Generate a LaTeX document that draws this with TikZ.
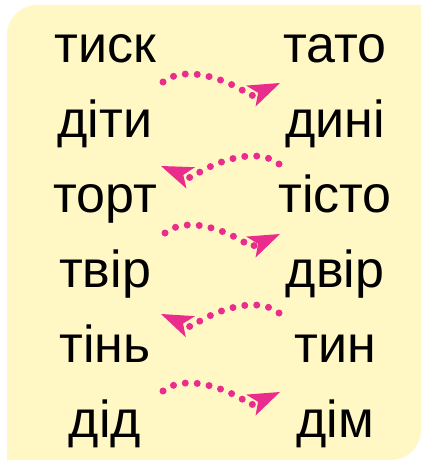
\documentclass[tikz,border=0pt]{standalone}
\usepackage{fontspec}
\setmainfont{Liberation Sans}
\usetikzlibrary{arrows.meta}
\definecolor{paper}{RGB}{255,247,196}
\definecolor{dotpink}{RGB}{234,44,140}

\begin{document}
\begin{tikzpicture}[x=1pt,y=-1pt,node distance=74.8pt,
      word/.style={font=\fontsize{52}{52}\selectfont,text height=38pt,text depth=12pt,inner sep=0pt},
      hop/.style={dotpink,line width=7pt,line cap=round,dash pattern=on 0pt off 12pt,
        -{Stealth[length=32pt,width=23pt,inset=8pt,line width=0pt]}}]

      \useasboundingbox (0,0) rectangle (421,460);
      \fill[paper] (7,460) -- (7,35) arc[start angle=180,end angle=270,radius=30]
        -- (421,5) -- (421,430) arc[start angle=0,end angle=90,radius=30] -- cycle;


      \node[word] (tysk) at (105,50) {тиск};
      \node[word] (dity) [below of=tysk] {діти};
      \node[word] (tort) [below of=dity] {торт};
      \node[word] (tvir) [below of=tort] {твір};
      \node[word] (tin) [below of=tvir] {тінь};
      \node[word] (did) [below of=tin] {дід};

      \node[word] (tato) [node distance=230pt,right of=tysk] {тато};
      \node[word] (dyni) [below of=tato] {дині};
      \node[word] (tisto) [below of=dyni] {тісто};
      \node[word] (dvir) [below of=tisto] {двір};
      \node[word] (tyn) [below of=dvir] {тин};
      \node[word] (dim) [below of=tyn] {дім};


      \coordinate (h1a) at (163,82);  \coordinate (h1b) at (280,83);
      \coordinate (h2a) at (279,164); \coordinate (h2b) at (161,166);
      \coordinate (h3a) at (165,233); \coordinate (h3b) at (280,234);
      \coordinate (h4a) at (279,313); \coordinate (h4b) at (161,314);
      \coordinate (h5a) at (163,391); \coordinate (h5b) at (280,392);

      \draw[hop] (h1a) .. controls (188,62) and (236,84) .. (251,96) -- (h1b);
      \draw[hop] (h2a) .. controls (254,144) and (206,166) .. (191,178) -- (h2b);
      \draw[hop] (h3a) .. controls (190,213) and (236,235) .. (251,247) -- (h3b);
      \draw[hop] (h4a) .. controls (254,293) and (206,315) .. (191,327) -- (h4b);
      \draw[hop] (h5a) .. controls (188,371) and (236,393) .. (251,405) -- (h5b);
    \end{tikzpicture}
\end{document}
